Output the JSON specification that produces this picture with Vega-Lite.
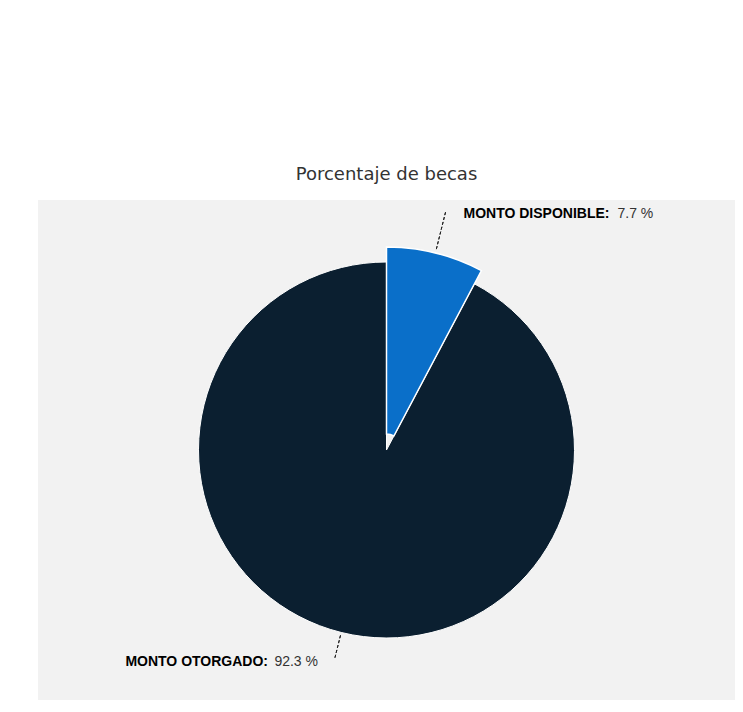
{
  "$schema": "https://vega.github.io/schema/vega-lite/v6.json",
  "width": 697,
  "height": 500,
  "autosize": {"type": "none"},
  "padding": {"left": 38, "top": 200, "right": 8, "bottom": 12},
  "background": "white",
  "view": {"fill": "#f2f2f2", "stroke": null},
  "title": {
    "text": "Porcentaje de becas",
    "font": "DejaVu Sans",
    "fontSize": 18,
    "fontWeight": "normal",
    "color": "#333333",
    "anchor": "middle",
    "offset": 16
  },
  "data": {
    "values": [
      {"name": "MONTO DISPONIBLE", "value": 35084232},
      {"name": "MONTO OTORGADO", "value": 417935960}
    ]
  },
  "transform": [
    {"stack": "value", "groupby": [], "sort": [{"field": "name", "order": "ascending"}], "as": ["start", "end"]},
    {"calculate": "(datum.start + datum.end) / 2", "as": "mid"},
    {"joinaggregate": [{"op": "sum", "field": "value", "as": "total"}]},
    {"calculate": "format(datum.value / datum.total * 100, '.1f') + ' %'", "as": "pct"},
    {"calculate": "datum.name + ':'", "as": "label"}
  ],
  "layer": [
    {
      "transform": [{"filter": "datum.name === 'MONTO OTORGADO'"}],
      "mark": {"type": "arc", "outerRadius": 188, "innerRadius": 0, "fill": "#0b1f30", "stroke": "white", "strokeWidth": 1},
      "encoding": {
        "theta": {"field": "end", "type": "quantitative", "stack": null, "scale": {"nice": false, "zero": true}},
        "theta2": {"field": "start"}
      }
    },
    {
      "transform": [{"filter": "datum.name === 'MONTO DISPONIBLE'"}],
      "mark": {"type": "arc", "outerRadius": 203, "innerRadius": 16, "fill": "#0a6fc9", "stroke": "white", "strokeWidth": 1.5},
      "encoding": {
        "theta": {"field": "end", "type": "quantitative", "stack": null},
        "theta2": {"field": "start"}
      }
    },
    {
      "transform": [{"filter": "datum.name === 'MONTO DISPONIBLE'"}],
      "mark": {"type": "arc", "innerRadius": 206, "outerRadius": 245, "fill": null, "stroke": "#222222", "strokeWidth": 1, "strokeDash": [3, 2]},
      "encoding": {
        "theta": {"field": "mid", "type": "quantitative", "stack": null},
        "theta2": {"field": "mid"}
      }
    },
    {
      "transform": [{"filter": "datum.name === 'MONTO OTORGADO'"}],
      "mark": {"type": "arc", "innerRadius": 190, "outerRadius": 214, "fill": null, "stroke": "#222222", "strokeWidth": 1, "strokeDash": [3, 2]},
      "encoding": {
        "theta": {"field": "mid", "type": "quantitative", "stack": null},
        "theta2": {"field": "mid"}
      }
    },
    {
      "transform": [{"filter": "datum.name === 'MONTO DISPONIBLE'"}],
      "mark": {"type": "text", "radius": 245, "align": "left", "baseline": "middle", "dx": 18, "dy": 2, "font": "Liberation Sans", "fontSize": 14, "fontWeight": "bold", "color": "#000000"},
      "encoding": {
        "theta": {"field": "mid", "type": "quantitative", "stack": null},
        "text": {"field": "label"}
      }
    },
    {
      "transform": [{"filter": "datum.name === 'MONTO DISPONIBLE'"}],
      "mark": {"type": "text", "radius": 245, "align": "left", "baseline": "middle", "dx": 172, "dy": 2, "font": "Liberation Sans", "fontSize": 14, "fontWeight": "normal", "color": "#333333"},
      "encoding": {
        "theta": {"field": "mid", "type": "quantitative", "stack": null},
        "text": {"field": "pct"}
      }
    },
    {
      "transform": [{"filter": "datum.name === 'MONTO OTORGADO'"}],
      "mark": {"type": "text", "radius": 218, "align": "right", "baseline": "middle", "dx": -66, "dy": 0, "font": "Liberation Sans", "fontSize": 14, "fontWeight": "bold", "color": "#000000"},
      "encoding": {
        "theta": {"field": "mid", "type": "quantitative", "stack": null},
        "text": {"field": "label"}
      }
    },
    {
      "transform": [{"filter": "datum.name === 'MONTO OTORGADO'"}],
      "mark": {"type": "text", "radius": 218, "align": "right", "baseline": "middle", "dx": -16, "dy": 0, "font": "Liberation Sans", "fontSize": 14, "fontWeight": "normal", "color": "#333333"},
      "encoding": {
        "theta": {"field": "mid", "type": "quantitative", "stack": null},
        "text": {"field": "pct"}
      }
    }
  ]
}
